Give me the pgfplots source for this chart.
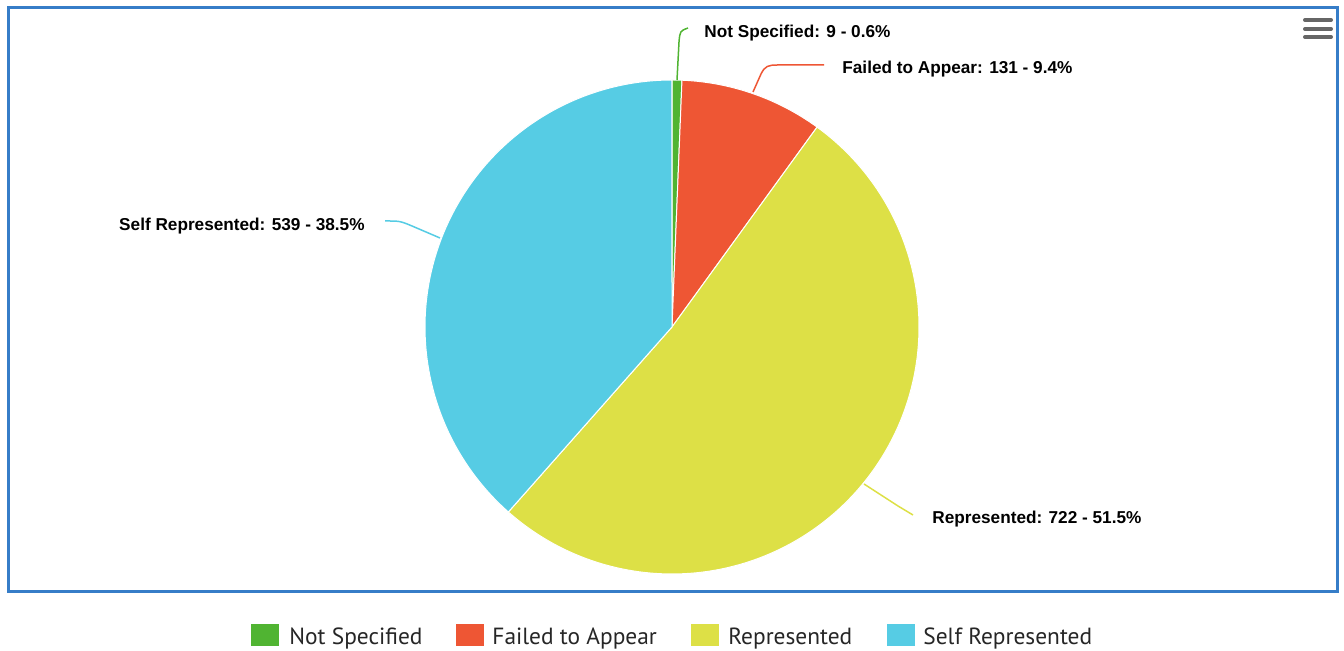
\documentclass[border=0pt]{standalone}
\usepackage{pgfplots}
\pgfplotsset{compat=1.18}
\usepackage{fontspec}
\setmainfont{Liberation Sans}
\newfontfamily\legfont{PT Sans}
\definecolor{cNS}{RGB}{80,180,50}
\definecolor{cFA}{RGB}{238,86,52}
\definecolor{cRE}{RGB}{221,224,70}
\definecolor{cSR}{RGB}{86,204,228}
\definecolor{frame}{RGB}{54,125,200}
\definecolor{menu}{RGB}{102,102,102}
% data (counts)
\def\vNS{9}
\def\vFA{131}
\def\vRE{722}
\def\vSR{539}
\begin{document}
\begin{tikzpicture}
\pgfmathsetmacro{\tot}{\vNS+\vFA+\vRE+\vSR}
\pgfmathsetmacro{\aA}{90}
\pgfmathsetmacro{\aB}{\aA-360*(\vNS/\tot)}
\pgfmathsetmacro{\aC}{\aB-360*(\vFA/\tot)}
\pgfmathsetmacro{\aD}{\aC-360*(\vRE/\tot)}
\pgfmathsetmacro{\aE}{\aD-360*(\vSR/\tot)}
\def\cx{672}\def\cy{324}\def\R{247}
\begin{axis}[
  width=672pt, height=325.5pt, scale only axis,
  xmin=0, xmax=1344, ymin=0, ymax=651,
  hide axis, clip=false,
]
\path (axis cs:0,0) rectangle (axis cs:1344,651);
% frame
\draw[frame, line width=1.5pt] (axis cs:8,59) rectangle (axis cs:1337,643);
% menu icon
\draw[menu, line width=2pt, line cap=round] (axis cs:1305,631) -- (axis cs:1331,631);
\draw[menu, line width=2pt, line cap=round] (axis cs:1305,622) -- (axis cs:1331,622);
\draw[menu, line width=2pt, line cap=round] (axis cs:1305,614) -- (axis cs:1331,614);
% slices
\addplot[fill=cNS, draw=white, line width=0.5pt, domain=\aB:\aA, samples=10]
  ({\cx+\R*cos(x)},{\cy+\R*sin(x)}) -- (axis cs:\cx,\cy) -- cycle;
\addplot[fill=cFA, draw=white, line width=0.5pt, domain=\aC:\aB, samples=40]
  ({\cx+\R*cos(x)},{\cy+\R*sin(x)}) -- (axis cs:\cx,\cy) -- cycle;
\addplot[fill=cRE, draw=white, line width=0.5pt, domain=\aD:\aC, samples=150]
  ({\cx+\R*cos(x)},{\cy+\R*sin(x)}) -- (axis cs:\cx,\cy) -- cycle;
\addplot[fill=cSR, draw=white, line width=0.5pt, domain=\aE:\aD, samples=120]
  ({\cx+\R*cos(x)},{\cy+\R*sin(x)}) -- (axis cs:\cx,\cy) -- cycle;
% connectors
\draw[cNS, line width=0.75pt] (axis cs:677,571) -- (axis cs:679,609) .. controls (axis cs:680,620) .. (axis cs:688,623);
\draw[cFA, line width=0.75pt] (axis cs:753,559) -- (axis cs:761,577) .. controls (axis cs:765,585) and (axis cs:768,586) .. (axis cs:778,586) -- (axis cs:824,586);
\draw[cRE, line width=0.75pt] (axis cs:864,167) -- (axis cs:898,145) .. controls (axis cs:906,140) .. (axis cs:913,136);
\draw[cSR, line width=0.75pt] (axis cs:440,413) -- (axis cs:412,425) .. controls (axis cs:400,430) .. (axis cs:385,430);
% data labels
\node[anchor=west, inner sep=0, font=\fontsize{8.6pt}{10pt}\selectfont\bfseries] at (axis cs:704,618) {Not Specified: 9 - 0.6\%};
\node[anchor=west, inner sep=0, font=\fontsize{8.6pt}{10pt}\selectfont\bfseries] at (axis cs:842,582) {Failed to Appear: 131 - 9.4\%};
\node[anchor=west, inner sep=0, font=\fontsize{8.6pt}{10pt}\selectfont\bfseries] at (axis cs:932,132) {Represented: 722 - 51.5\%};
\node[anchor=east, inner sep=0, font=\fontsize{8.6pt}{10pt}\selectfont\bfseries] at (axis cs:365,425) {Self Represented: 539 - 38.5\%};
% legend
\fill[cNS] (axis cs:251,5) rectangle (axis cs:279,27);
\fill[cFA] (axis cs:456,5) rectangle (axis cs:484,27);
\fill[cRE] (axis cs:691,5) rectangle (axis cs:719,27);
\fill[cSR] (axis cs:887,5) rectangle (axis cs:915,27);
\node[anchor=base west, inner sep=0, font=\legfont\fontsize{11.7pt}{14pt}\selectfont, text=black!85] at (axis cs:289,6) {Not Specified};
\node[anchor=base west, inner sep=0, font=\legfont\fontsize{11.7pt}{14pt}\selectfont, text=black!85] at (axis cs:492,6) {Failed to Appear};
\node[anchor=base west, inner sep=0, font=\legfont\fontsize{11.7pt}{14pt}\selectfont, text=black!85] at (axis cs:728,6) {Represented};
\node[anchor=base west, inner sep=0, font=\legfont\fontsize{11.7pt}{14pt}\selectfont, text=black!85] at (axis cs:923,6) {Self Represented};
\end{axis}
\end{tikzpicture}
\end{document}
